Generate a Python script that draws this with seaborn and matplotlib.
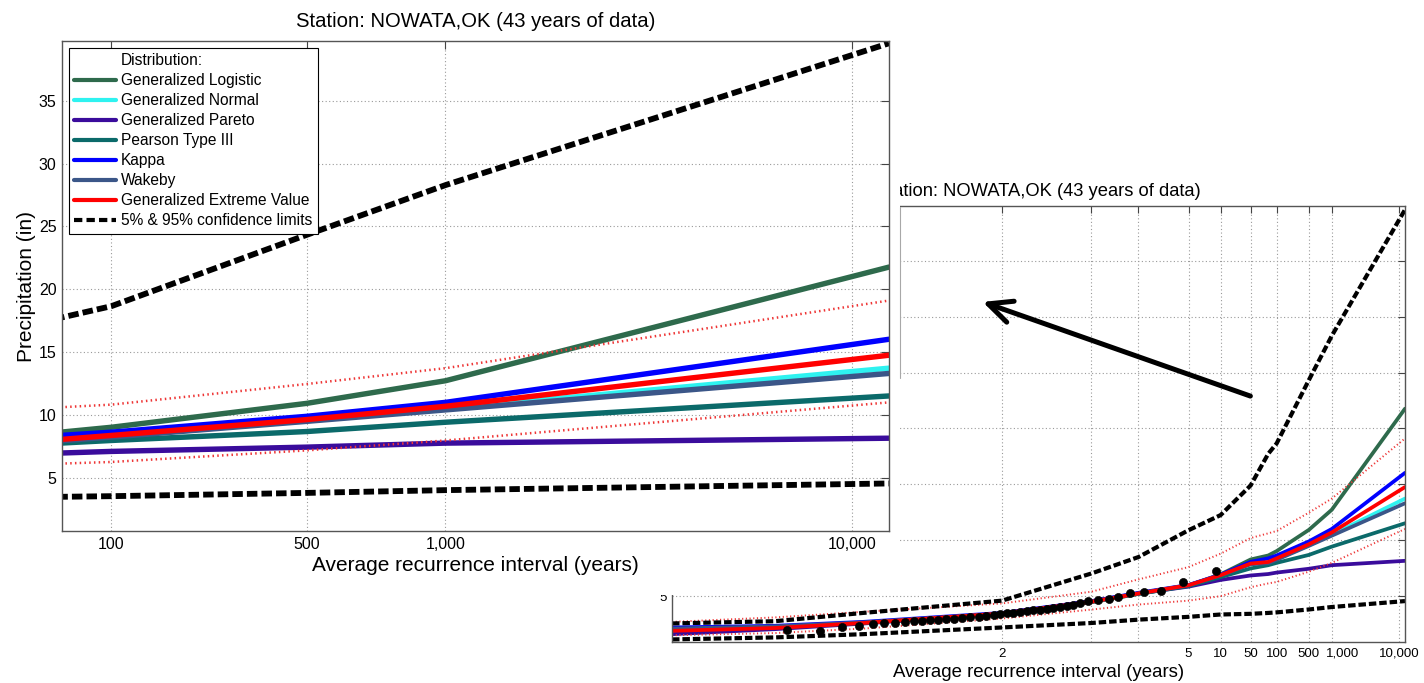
import numpy as np
import pandas as pd
import matplotlib
matplotlib.use("Agg")
import matplotlib.pyplot as plt
import seaborn as sns
from matplotlib.lines import Line2D
from matplotlib.patches import Rectangle, FancyArrowPatch
from matplotlib.ticker import FixedLocator, FixedFormatter, NullLocator

# ---------------------------------------------------------------- text
station_title = "Station: NOWATA,OK (43 years of data)"
x_label = "Average recurrence interval (years)"
y_label = "Precipitation (in)"
legend_title = "Distribution:"
conf_label = "5% & 95% confidence limits"

# ---------------------------------------------------------------- data
# recurrence interval (years) at which the fitted frequency curves are tabulated
recurrence = [1.01, 1.25, 1.5, 2, 3, 4, 5, 10, 50, 80, 100, 500, 1000, 12300]

gen_logistic = [1.85, 2.15, 2.60, 3.40, 4.45, 5.20, 5.95, 6.95, 8.28, 8.64, 9.03, 10.93, 12.73, 21.77]
gen_normal   = [1.90, 2.20, 2.60, 3.45, 4.50, 5.24, 5.98, 6.88, 7.90, 8.00, 8.30, 9.55, 10.50, 13.73]
gen_pareto   = [1.60, 2.05, 2.55, 3.45, 4.55, 5.25, 5.85, 6.45, 6.85, 6.98, 7.11, 7.45, 7.77, 8.16]
pearson_3    = [1.95, 2.20, 2.60, 3.45, 4.50, 5.20, 5.90, 6.70, 7.48, 7.77, 7.98, 8.69, 9.43, 11.52]
kappa        = [2.20, 2.35, 2.70, 3.50, 4.55, 5.30, 6.00, 6.92, 8.07, 8.38, 8.64, 9.90, 11.01, 16.03]
wakeby       = [2.10, 2.30, 2.65, 3.45, 4.50, 5.25, 5.98, 6.86, 7.85, 7.95, 8.25, 9.50, 10.41, 13.31]
gev          = [1.90, 2.15, 2.60, 3.45, 4.50, 5.24, 5.98, 6.88, 7.92, 8.06, 8.38, 9.64, 10.70, 14.76]

# bounds drawn around the GEV curve
gev_upper = [2.70, 3.10, 3.60, 4.35, 5.40, 6.50, 7.60, 8.80, 10.20, 10.62, 10.83, 12.47, 13.73, 19.11]
gev_lower = [1.50, 1.70, 2.10, 3.00, 3.80, 4.25, 4.60, 5.00, 5.80, 6.14, 6.27, 7.19, 7.98, 11.01]

# 5% and 95% confidence limits
conf_upper = [2.56, 2.76, 3.50, 4.60, 7.03, 8.50, 10.90, 12.25, 14.90, 17.74, 18.66, 24.33, 28.29, 39.57]
conf_lower = [1.13, 1.31, 1.60, 2.20, 2.60, 2.90, 3.15, 3.36, 3.42, 3.50, 3.55, 3.81, 4.03, 4.56]

distributions = ["Generalized Logistic", "Generalized Normal", "Generalized Pareto",
                 "Pearson Type III", "Kappa", "Wakeby", "Generalized Extreme Value"]
dist_colors = ["#2e6a4c", "#2ef2f0", "#3a0c9c", "#0b6a6a", "#0000ff", "#3b5688", "#ff0000"]
dist_values = [gen_logistic, gen_normal, gen_pareto, pearson_3, kappa, wakeby, gev]

# annual maxima (plotting position, precipitation)
observed_interval = [1.281, 1.373, 1.435, 1.488, 1.530, 1.568, 1.603, 1.637, 1.668, 1.696,
                     1.724, 1.753, 1.782, 1.812, 1.842, 1.873, 1.905, 1.936, 1.969, 1.993,
                     2.049, 2.105, 2.174, 2.244, 2.306, 2.380, 2.457, 2.525, 2.606, 2.690,
                     2.765, 2.854, 2.959, 3.131, 3.330, 3.538, 3.808, 4.091, 4.413, 4.868,
                     8.970]
observed_precip = [1.96, 1.90, 2.26, 2.35, 2.47, 2.56, 2.62, 2.68, 2.74, 2.80,
                   2.85, 2.90, 2.95, 3.00, 3.05, 3.10, 3.15, 3.22, 3.30, 3.38,
                   3.45, 3.52, 3.60, 3.66, 3.72, 3.80, 3.88, 3.95, 4.05, 4.15,
                   4.25, 4.40, 4.55, 4.64, 4.73, 4.94, 5.24, 5.38, 5.47, 6.28,
                   7.26]

zoom_ticks = [100, 500, 1000, 10000]
zoom_tick_labels = ["100", "500", "1,000", "10,000"]
full_ticks = [2, 3, 4, 5, 10, 50, 100, 500, 1000, 10000]
full_tick_labels = ["2", "", "", "5", "10", "50", "100", "500", "1,000", "10,000"]
y_ticks = [5, 10, 15, 20, 25, 30, 35]

# ---------------------------------------------------------------- probability-paper axis
PAPER_T = np.array([1.01, 2, 3, 4, 5, 10, 50, 100, 500, 1000, 10000, 100000])
PAPER_POS = np.array([0.0, 329.7, 419.0, 466.0, 516.0, 548.0, 578.0, 604.0,
                      636.2, 659.1, 726.2, 793.3])
_PAPER_LOG = np.log10(PAPER_T)


def paper_forward(t):
    t = np.clip(np.asarray(t, dtype=float), 1e-6, None)
    return np.interp(np.log10(t), _PAPER_LOG, PAPER_POS)


def paper_inverse(u):
    return 10.0 ** np.interp(np.asarray(u, dtype=float), PAPER_POS, _PAPER_LOG)


# ---------------------------------------------------------------- style
sns.set_theme(style="white")
plt.rcParams["font.family"] = ["Liberation Sans", "DejaVu Sans"]
plt.rcParams["text.color"] = "black"
plt.rcParams["axes.labelcolor"] = "black"
plt.rcParams["xtick.color"] = "black"
plt.rcParams["ytick.color"] = "black"

palette = dict(zip(distributions, dist_colors))
curves = pd.DataFrame({
    "interval": np.tile(recurrence, len(distributions)),
    "precip": np.concatenate(dist_values),
    "distribution": np.repeat(distributions, len(recurrence)),
})
GEV_BOUND_COLOR = "#ee3535"


def draw_panel(ax, lw, dash_lw, dot_lw, dot_size, xlim, ylim, ticks, tick_labels,
               tick_fs, label_fs, title_fs, tick_len, title_pad, label_shift=None):
    sns.lineplot(data=curves, x="interval", y="precip", hue="distribution",
                 hue_order=distributions, palette=palette, estimator=None,
                 sort=False, linewidth=lw, legend=False, ax=ax)
    for vals in (gev_upper, gev_lower):
        sns.lineplot(x=recurrence, y=vals, color=GEV_BOUND_COLOR, linewidth=dot_lw,
                     linestyle=(0, (0.6, 1.3)), estimator=None, sort=False, ax=ax)
    for vals in (conf_upper, conf_lower):
        sns.lineplot(x=recurrence, y=vals, color="black", linewidth=dash_lw,
                     linestyle=(0, (1.8, 0.7)), estimator=None, sort=False, ax=ax)
    sns.scatterplot(x=observed_interval, y=observed_precip, color="black",
                    edgecolor="black", s=dot_size, zorder=5, ax=ax)

    ax.set_xscale("function", functions=(paper_forward, paper_inverse))
    ax.set_xlim(*xlim)
    ax.set_ylim(*ylim)

    # tick labels that sit off-centre from their tick are written separately
    label_shift = label_shift or {}
    shown = [("" if t in label_shift else lab) for t, lab in zip(ticks, tick_labels)]
    ax.xaxis.set_major_locator(FixedLocator(ticks))
    ax.xaxis.set_major_formatter(FixedFormatter(shown))
    ax.xaxis.set_minor_locator(NullLocator())
    ax.yaxis.set_major_locator(FixedLocator(y_ticks))
    ax.yaxis.set_minor_locator(NullLocator())
    for t, lab in zip(ticks, tick_labels):
        if t in label_shift:
            ax.annotate(lab, xy=(t, 0), xycoords=ax.get_xaxis_transform(),
                        xytext=(label_shift[t], -4), textcoords="offset points",
                        ha="center", va="top", fontsize=tick_fs)

    ax.grid(True, which="major", linestyle=(0, (1, 2.2)), color="#9a9a9a", linewidth=0.8)
    ax.tick_params(direction="in", top=True, right=True, length=tick_len, width=0.8,
                   color="#444444", labelsize=tick_fs, pad=4)
    for sp in ax.spines.values():
        sp.set_color("#555555")
        sp.set_linewidth(1.0)
        sp.set_visible(True)
    ax.set_xlabel(x_label, fontsize=label_fs, labelpad=3)
    ax.set_ylabel(y_label, fontsize=label_fs, labelpad=2)
    ax.set_title(station_title, fontsize=title_fs, pad=title_pad)
    ax.set_facecolor("white")


fig = plt.figure(figsize=(14.24, 6.83), dpi=100)
fig.patch.set_facecolor("white")

# full-range panel (lower right)
ax_full = fig.add_axes([672 / 1424, 41 / 683, 733 / 1424, 436 / 683], zorder=1)
draw_panel(ax_full, lw=2.7, dash_lw=3.0, dot_lw=1.4, dot_size=34,
           xlim=(1.01, 12300), ylim=(0.9, 39.9), ticks=full_ticks,
           tick_labels=full_tick_labels, tick_fs=9.5, label_fs=13.4,
           title_fs=13.2, tick_len=5, title_pad=7, label_shift={1000: 8})

# white backing of the enlarged panel, hiding the upper-left of the full panel
fig.add_artist(Rectangle((0, 88 / 683), 900 / 1424, 595 / 683, transform=fig.transFigure,
                         facecolor="white", edgecolor="none", zorder=1.5))
fig.add_artist(Line2D([900 / 1424, 900 / 1424], [1 - 207 / 683, 1 - 378 / 683],
                      transform=fig.transFigure, color="#a8a8a8", linewidth=0.8, zorder=1.6))

# enlarged panel (upper left)
ax_zoom = fig.add_axes([62 / 1424, 152 / 683, 827 / 1424, 490 / 683], zorder=2)
draw_panel(ax_zoom, lw=3.9, dash_lw=4.2, dot_lw=1.8, dot_size=40,
           xlim=(80.5, 12300), ylim=(0.78, 39.75), ticks=zoom_ticks,
           tick_labels=zoom_tick_labels, tick_fs=11.5, label_fs=15,
           title_fs=14.6, tick_len=6, title_pad=10)

handles = [Line2D([], [], color="none", label=legend_title)]
for name, col in zip(distributions, dist_colors):
    handles.append(Line2D([], [], color=col, linewidth=3.0, label=name))
handles.append(Line2D([], [], color="black", linewidth=3.0,
                      linestyle=(0, (2.0, 1.0)), label=conf_label))
leg = ax_zoom.legend(handles=handles, loc="upper left", fontsize=11.2, frameon=True,
                     fancybox=False, framealpha=1, edgecolor="black",
                     handlelength=2.7, handletextpad=0.3, labelspacing=0.32,
                     borderpad=0.35, borderaxespad=0.45)
leg.get_frame().set_linewidth(0.8)

# arrow pointing from the full panel to the enlarged view
fig.add_artist(FancyArrowPatch((1253 / 1424, 1 - 397 / 683), (980 / 1424, 1 - 301 / 683),
                               transform=fig.transFigure,
                               arrowstyle="->,head_length=0.85,head_width=0.4",
                               mutation_scale=20, color="black", linewidth=3.6, zorder=3))

fig.savefig("out.png", dpi=100, facecolor="white")
